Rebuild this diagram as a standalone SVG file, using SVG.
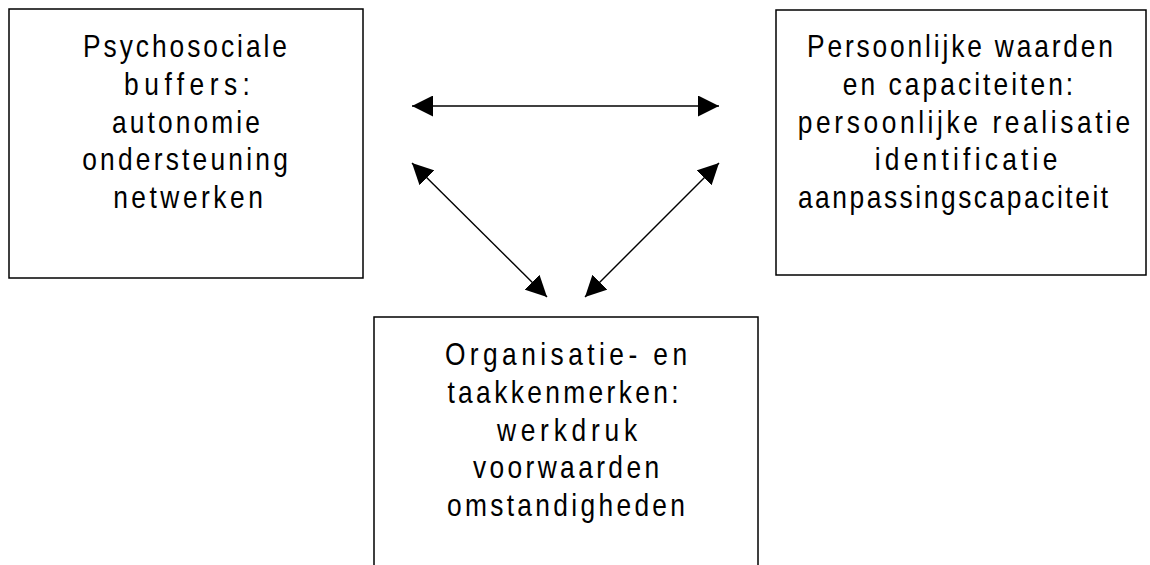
<svg xmlns="http://www.w3.org/2000/svg" width="1150" height="565" viewBox="0 0 1150 565">
<style>
.box{fill:#fff;stroke:#000;stroke-width:1.5}
.t{font-family:"Liberation Sans",Arial,sans-serif;font-size:31px;fill:#000;text-anchor:middle}
.c{stroke:#000;stroke-width:1.4;fill:none;marker-start:url(#ah);marker-end:url(#ah)}
</style>
<defs>
<marker id="ah" markerUnits="userSpaceOnUse" markerWidth="21" markerHeight="21" viewBox="0 0 21 21" refX="21" refY="10.5" orient="auto-start-reverse">
<path d="M0,0 L21,10.5 L0,21 z" fill="#000"/>
</marker>
</defs>
<rect width="1150" height="565" fill="#fff"/>
<g id="connectors">
<line class="c" x1="412" y1="106" x2="719" y2="106"/>
<line class="c" x1="412" y1="163" x2="547" y2="297"/>
<line class="c" x1="719" y1="163" x2="585" y2="297"/>
</g>
<g id="node-psychosociale">
<rect class="box" x="9" y="9" width="354" height="269"/>
<text class="t" transform="translate(185,57) scale(0.85,1)" textLength="240" lengthAdjust="spacing">Psychosociale</text>
<text class="t" transform="translate(187,95) scale(0.85,1)" textLength="148" lengthAdjust="spacing">buffers:</text>
<text class="t" transform="translate(186,133) scale(0.85,1)" textLength="174" lengthAdjust="spacing">autonomie</text>
<text class="t" transform="translate(185,170) scale(0.85,1)" textLength="242" lengthAdjust="spacing">ondersteuning</text>
<text class="t" transform="translate(188,208) scale(0.85,1)" textLength="176" lengthAdjust="spacing">netwerken</text>
</g>
<g id="node-persoonlijk">
<rect class="box" x="776" y="10" width="370" height="265"/>
<text class="t" transform="translate(960,57) scale(0.85,1)" textLength="360" lengthAdjust="spacing">Persoonlijke waarden</text>
<text class="t" transform="translate(958,95) scale(0.85,1)" textLength="271" lengthAdjust="spacing">en capaciteiten:</text>
<text class="t" transform="translate(964,133) scale(0.85,1)" textLength="391" lengthAdjust="spacing">persoonlijke realisatie</text>
<text class="t" transform="translate(966,170) scale(0.85,1)" textLength="215" lengthAdjust="spacing">identificatie</text>
<text class="t" transform="translate(953,208) scale(0.85,1)" textLength="365" lengthAdjust="spacing">aanpassingscapaciteit</text>
</g>
<g id="node-organisatie">
<rect class="box" x="374" y="317" width="384" height="260"/>
<text class="t" transform="translate(566,365) scale(0.85,1)" textLength="285" lengthAdjust="spacing">Organisatie- en</text>
<text class="t" transform="translate(563,403) scale(0.85,1)" textLength="272" lengthAdjust="spacing">taakkenmerken:</text>
<text class="t" transform="translate(567,441) scale(0.85,1)" textLength="165" lengthAdjust="spacing">werkdruk</text>
<text class="t" transform="translate(566,478) scale(0.85,1)" textLength="219" lengthAdjust="spacing">voorwaarden</text>
<text class="t" transform="translate(566,516) scale(0.85,1)" textLength="280" lengthAdjust="spacing">omstandigheden</text>
</g>
</svg>
